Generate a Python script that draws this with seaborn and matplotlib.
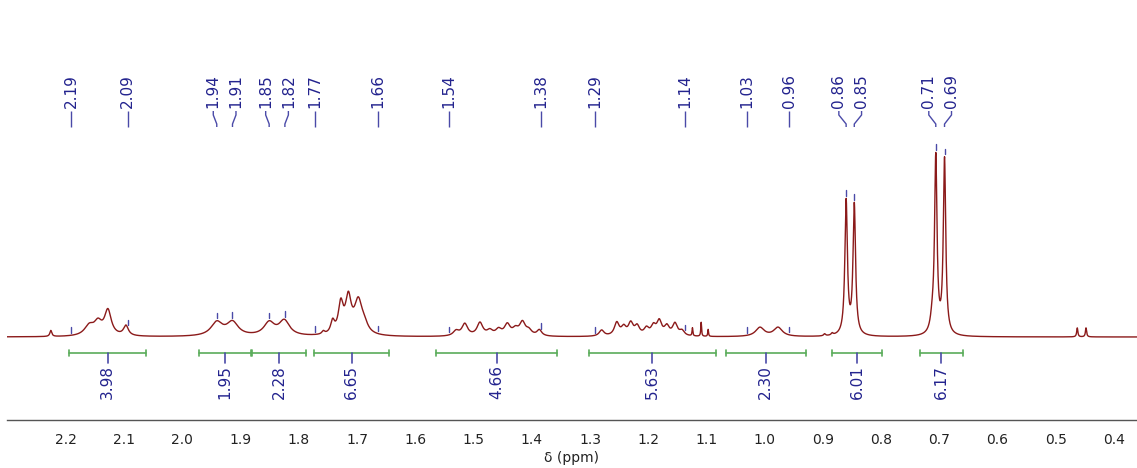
import numpy as np
import pandas as pd
import matplotlib
matplotlib.use("Agg")
import matplotlib.pyplot as plt
import seaborn as sns
from matplotlib.ticker import MultipleLocator

# ---------------- data ----------------
# resonance lines: centre (ppm), height (a.u.), half width (ppm)
peak_ppm = [2.226,
            2.160, 2.145, 2.128, 2.097,
            1.941, 1.914,
            1.851, 1.825,
            1.758, 1.742, 1.728, 1.715, 1.698, 1.688,
            1.530, 1.515, 1.489, 1.472, 1.457, 1.442, 1.428, 1.416, 1.405, 1.387,
            1.280, 1.254, 1.242, 1.230, 1.219, 1.203, 1.191, 1.181, 1.168, 1.154, 1.142,
            1.124, 1.109, 1.097,
            1.008, 0.977,
            0.897, 0.884,
            0.860, 0.846,
            0.712, 0.706, 0.691,
            0.463, 0.448]
peak_height = [6,
               10, 12, 25, 10,
               13.5, 13.5,
               13, 15,
               3, 12, 29, 35, 32, 8,
               5, 12, 13, 5, 6, 11, 6, 13, 5, 6,
               6, 13, 8, 12, 9, 7, 9, 14, 9, 12, 5,
               8, 14, 7,
               9, 9,
               2, 2,
               134, 130,
               12, 176, 175,
               9, 9]
peak_hwhm = [0.002,
             0.010, 0.008, 0.007, 0.005,
             0.012, 0.012,
             0.011, 0.011,
             0.003, 0.004, 0.005, 0.006, 0.008, 0.008,
             0.006, 0.006, 0.006, 0.006, 0.006, 0.006, 0.006, 0.006, 0.006, 0.005,
             0.005, 0.005, 0.005, 0.005, 0.005, 0.005, 0.005, 0.005, 0.005, 0.005, 0.005,
             0.0008, 0.0008, 0.0008,
             0.009, 0.009,
             0.002, 0.002,
             0.0026, 0.0026,
             0.004, 0.0025, 0.0025,
             0.0012, 0.0012]

# picked peaks (ppm)
pick_ppm = [2.191, 2.094, 1.941, 1.914, 1.851, 1.824, 1.773, 1.664, 1.542,
            1.384, 1.291, 1.137, 1.031, 0.958, 0.860, 0.846, 0.706, 0.691]

# integrals
integral_start = [2.194, 1.972, 1.880, 1.774, 1.565, 1.302, 1.067, 0.884, 0.733]
integral_end = [2.063, 1.883, 1.788, 1.645, 1.356, 1.084, 0.929, 0.798, 0.660]
integral_value = [3.98, 1.95, 2.28, 6.65, 4.66, 5.63, 2.30, 6.01, 6.17]

tick_values = [2.2, 2.1, 2.0, 1.9, 1.8, 1.7, 1.6, 1.5, 1.4, 1.3,
               1.2, 1.1, 1.0, 0.9, 0.8, 0.7, 0.6, 0.5, 0.4]
x_label = "δ (ppm)"

# ---------------- build the trace ----------------
x = np.linspace(2.31, 0.35, 24000)
y = np.zeros_like(x)
for c, h, w in zip(peak_ppm, peak_height, peak_hwhm):
    y += h / (1.0 + ((x - c) / w) ** 2)
df = pd.DataFrame({"ppm": x, "intensity": y})

# ---------------- styling ----------------
sns.set_style("white")
plt.rcParams["font.family"] = ["DejaVu Sans"]

SPEC = "#8b1a1a"
BLUE = "#23238e"
TICKBLUE = "#4a4aa8"
GREEN = "#5aac5a"

fig = plt.figure(figsize=(11.37, 4.68), dpi=100)
ax = fig.add_axes([7 / 1137, 48 / 468, 1130 / 1137, 420 / 468])

sns.lineplot(data=df, x="ppm", y="intensity", ax=ax, color=SPEC,
             linewidth=1.0, estimator=None, sort=False)

ax.set_xlim(2.3013, 0.3604)
ax.set_ylim(-83, 337)

# peak pick ticks
for p in pick_ppm:
    yv = np.interp(p, x[::-1], y[::-1])
    ax.plot([p, p], [yv + 2.5, yv + 8], color=TICKBLUE, lw=1.0)

# label spreading
sep = 0.039
groups = [[p] for p in pick_ppm]
changed = True
while changed:
    changed = False
    new = [groups[0]]
    for g in groups[1:]:
        prev = new[-1]
        pc = np.mean(prev)
        pr = pc - (len(prev) - 1) / 2 * sep
        gc = np.mean(g)
        gl = gc + (len(g) - 1) / 2 * sep
        if pr - gl < sep:
            new[-1] = prev + g
            changed = True
        else:
            new.append(g)
    groups = new
label_pos = []
for g in groups:
    c = np.mean(g)
    for i in range(len(g)):
        label_pos.append(c + ((len(g) - 1) / 2 - i) * sep)

for p, lp in zip(pick_ppm, label_pos):
    ax.plot([p, p, lp, lp], [210, 213, 222, 226], color=TICKBLUE, lw=1.0,
            solid_capstyle="butt")
    ax.text(lp, 229, f"{p:.2f}", rotation=90, ha="center", va="bottom",
            color=BLUE, fontsize=11)

# integrals
for s, e, v in zip(integral_start, integral_end, integral_value):
    ax.plot([s, e], [-16, -16], color=GREEN, lw=1.2)
    ax.plot([s, s], [-13, -19], color=GREEN, lw=1.2)
    ax.plot([e, e], [-13, -19], color=GREEN, lw=1.2)
    m = (s + e) / 2
    ax.plot([m, m], [-16, -26], color=TICKBLUE, lw=1.2)
    ax.text(m, -28, f"{v:.2f}", rotation=90, ha="center", va="top",
            color=BLUE, fontsize=11)

# axis
for side in ["left", "right", "top"]:
    ax.spines[side].set_visible(False)
ax.spines["bottom"].set_color("#555555")
ax.spines["bottom"].set_linewidth(1.0)
ax.set_xticks(tick_values)
ax.set_xticklabels([f"{t:.1f}" for t in tick_values])
ax.xaxis.set_minor_locator(MultipleLocator(0.05))
ax.tick_params(axis="x", which="major", direction="out", length=3.5, width=1,
               color="#555555", labelsize=10, pad=6, labelcolor="#222222")
ax.tick_params(axis="x", which="minor", direction="out", length=2.5, width=1,
               color="#555555")
ax.set_yticks([])
ax.set_ylabel("")
ax.set_xlabel(x_label, fontsize=10, labelpad=3, color="#222222")
ax.patch.set_alpha(0)

fig.savefig("out.png", dpi=100)
